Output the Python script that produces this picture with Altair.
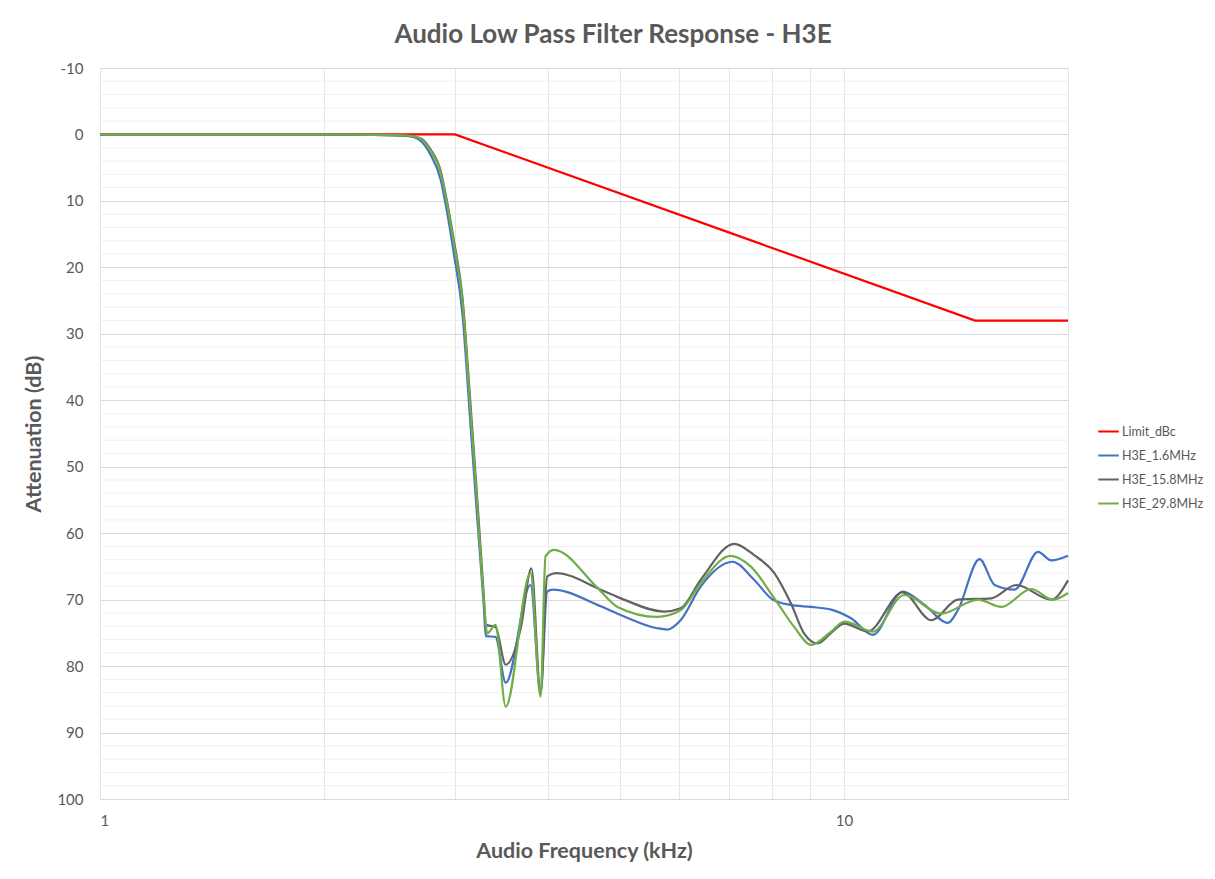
import altair as alt
import pandas as pd

# ---- data ----
series_names = ["Limit_dBc", "H3E_1.6MHz", "H3E_15.8MHz", "H3E_29.8MHz"]
series_colors = ["#ff0000", "#4472c4", "#636363", "#70ad47"]

limit_freq = [1.0, 3.0, 15.0, 20.0]
limit_att = [0, 0, 28, 28]

blue_freq = [1.0, 2.0, 2.45, 2.61, 2.70, 2.78, 2.87, 2.92, 2.99, 3.07, 3.14, 3.21, 3.28,
             3.30, 3.40, 3.51, 3.79, 3.91, 3.99, 4.06, 4.71, 5.01, 5.61, 5.79, 6.03,
             6.42, 7.08, 7.57, 8.02, 8.48, 9.03, 9.61, 10.22, 10.93, 11.99, 12.83,
             13.79, 14.22, 15.21, 15.94, 16.95, 18.23, 18.99, 20.0]
blue_att = [0, 0, 0.1, 0.3, 1.0, 3.0, 6.8, 11, 18, 27, 42, 57, 71,
            75.5, 75.6, 82.5, 67.8, 84.0, 68.8, 68.5, 71.0, 72.3, 74.3, 74.5, 73.1,
            68.0, 64.3, 67.0, 70.0, 70.8, 71.1, 71.5, 72.8, 75.3, 68.8, 70.8,
            73.5, 71.6, 63.9, 67.8, 68.5, 62.8, 64.1, 63.4]

gray_freq = [1.0, 2.0, 2.45, 2.61, 2.70, 2.78, 2.87, 2.92, 2.99, 3.07, 3.14, 3.21, 3.28,
             3.30, 3.40, 3.51, 3.68, 3.80, 3.91, 3.99, 4.10, 4.71, 5.06, 5.73, 6.03,
             6.42, 7.12, 7.57, 8.06, 8.48, 8.84, 9.22, 9.61, 10.01, 10.76, 11.99,
             13.10, 14.22, 15.77, 17.04, 18.99, 20.0]
gray_att = [0, 0, 0.1, 0.2, 0.6, 2.2, 5.5, 9.5, 16, 24.5, 39, 54, 69.5,
            73.8, 74.1, 79.8, 74.1, 65.3, 84.0, 66.5, 66.0, 68.5, 70.0, 71.8, 71.3,
            67.0, 61.6, 63.3, 66.0, 70.5, 75.1, 76.6, 75.0, 73.6, 74.8, 68.9,
            73.1, 70.0, 69.8, 67.8, 70.0, 67.1]

green_freq = [1.0, 2.0, 2.45, 2.61, 2.70, 2.78, 2.87, 2.92, 2.99, 3.07, 3.14, 3.21, 3.28,
              3.315, 3.40, 3.51, 3.79, 3.91, 3.97, 4.075, 4.66, 4.96, 5.61, 6.03,
              6.42, 7.04, 7.49, 8.06, 8.57, 9.03, 9.61, 10.01, 10.93, 12.05, 13.51,
              15.14, 16.27, 17.85, 19.09, 20.0]
green_att = [0, 0, 0.1, 0.2, 0.7, 2.4, 5.8, 9.8, 16.5, 25, 40, 55, 70,
             75.1, 73.8, 86.1, 66.0, 84.6, 63.5, 62.5, 68.2, 71.1, 72.6, 71.6,
             67.5, 63.4, 65.0, 69.8, 74.1, 76.8, 74.8, 73.3, 74.8, 69.3, 72.1,
             70.0, 71.1, 68.4, 70.0, 69.0]

x_grid_values = [1, 2, 3, 4, 5, 6, 7, 8, 9, 10, 20]
y_major_values = [-10, 0, 10, 20, 30, 40, 50, 60, 70, 80, 90, 100]
y_minor_values = [v for v in range(-10, 101, 2) if v % 10 != 0]

# ---- tables ----
limit_df = pd.DataFrame({"series": series_names[0], "freq": limit_freq, "att": limit_att})
resp_rows = []
for name, fs, vs in [(series_names[1], blue_freq, blue_att),
                     (series_names[2], gray_freq, gray_att),
                     (series_names[3], green_freq, green_att)]:
    for f, v in zip(fs, vs):
        resp_rows.append({"series": name, "freq": f, "att": v})
resp_df = pd.DataFrame(resp_rows)
minor_df = pd.DataFrame({"att": y_minor_values})

FONT = "Lato"
TXT = "#595959"

x_scale = alt.Scale(type="log", domain=[1, 20], nice=False)
y_scale = alt.Scale(domain=[-10, 100], reverse=True, nice=False, zero=False)
color_scale = alt.Scale(domain=series_names, range=series_colors)

x_axis = alt.Axis(
    values=x_grid_values,
    labelExpr="(datum.value == 1 || datum.value == 10) ? format(datum.value, 'd') : ''",
    grid=True, gridColor="#e6e6e6", ticks=False,
    domainColor="#d9d9d9", labelPadding=14, labelFontSize=15,
    labelFont=FONT, labelColor=TXT, labelFontWeight="normal",
    title="Audio Frequency (kHz)", titlePadding=12, titleFontSize=21.5,
    titleFont=FONT, titleColor=TXT, titleFontWeight="bold",
)
y_axis = alt.Axis(
    values=y_major_values, grid=True, gridColor="#d9d9d9", ticks=False,
    labelExpr="datum.value < 0 ? '-' + abs(datum.value) : '' + datum.value",
    domainColor="#e3e3e3", labelPadding=17, labelFontSize=15,
    labelFont=FONT, labelColor=TXT, labelFontWeight="normal",
    title="Attenuation (dB)", titlePadding=11, titleFontSize=21.5,
    titleFont=FONT, titleColor=TXT, titleFontWeight="bold",
)

minor = alt.Chart(minor_df).mark_rule(color="#f0f0f0", strokeWidth=1).encode(
    y=alt.Y("att:Q", scale=y_scale, axis=y_axis)
)

limit = alt.Chart(limit_df).mark_line(strokeWidth=2.2).encode(
    x=alt.X("freq:Q", scale=x_scale, axis=x_axis),
    y=alt.Y("att:Q", scale=y_scale, axis=y_axis),
    color=alt.Color("series:N", scale=color_scale, legend=alt.Legend(
        title=None, orient="none", legendX=997, legendY=352,
        symbolType="stroke", symbolStrokeWidth=2, symbolSize=420,
        labelFontSize=12.5, labelColor=TXT, labelFont=FONT, rowPadding=6,
        labelOffset=2, padding=0,
    )),
)

resp = alt.Chart(resp_df).mark_line(strokeWidth=2.2, interpolate="monotone").encode(
    x=alt.X("freq:Q", scale=x_scale, axis=x_axis),
    y=alt.Y("att:Q", scale=y_scale, axis=y_axis),
    color=alt.Color("series:N", scale=color_scale),
)

chart = alt.layer(minor, limit, resp).properties(
    width=968, height=731,
    padding={"left": 92, "top": 60, "right": 139, "bottom": 72},
    autosize=alt.AutoSizeParams(type="none"),
    title=alt.TitleParams(
        "Audio Low Pass Filter Response - H3E", fontSize=26, font=FONT,
        fontWeight="bold", color=TXT, anchor="middle", dx=29, offset=13,
    ),
).configure_view(stroke=None).configure(background="white")

chart.save("out.html", embed_options={"renderer": "svg", "actions": False})
